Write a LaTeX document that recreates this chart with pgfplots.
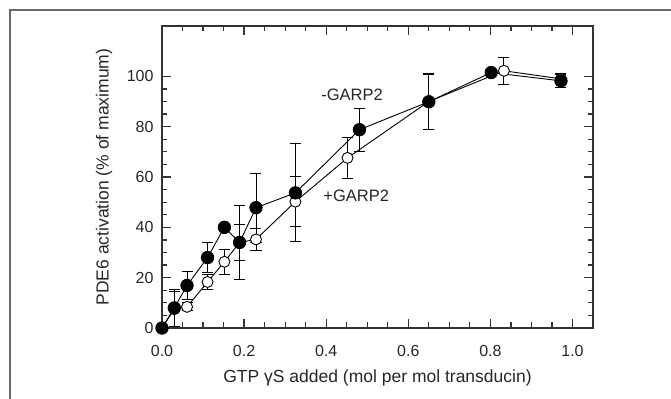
\documentclass[border=0pt]{standalone}
\usepackage{fontspec}
\setmainfont{Liberation Sans}
\usepackage{pgfplots}
\usepackage{pgfplotstable}
\pgfplotsset{compat=1.18}
\pgfplotstableread{
x y e
0 0 0
0.030 8.0 7.5
0.061 16.9 5.6
0.111 28.0 5.9
0.152 40.0 1.0
0.189 34.0 14.6
0.229 47.8 13.7
0.325 53.7 19.5
0.481 78.8 8.5
0.650 89.9 10.9
0.802 101.5 1.0
0.972 98.2 2.6
}\minusgarp
\pgfplotstableread{
x y e
0 0 0
0.030 7.5 7.0
0.061 8.4 1.6
0.111 18.3 3.0
0.152 26.3 5.0
0.189 34.0 7.0
0.229 35.2 4.3
0.325 50.2 10.0
0.452 67.6 8.3
0.650 90.0 11.3
0.833 102.2 5.3
0.972 99.0 2.0
}\plusgarp
\definecolor{axgray}{HTML}{333333}
\definecolor{framegray}{HTML}{6A6A6A}
\begin{document}
\begin{tikzpicture}
\useasboundingbox (-162bp,-71bp) rectangle (509bp,328bp);
\draw[line width=1.3bp, color=framegray] (-152bp,-71bp) -- (-152bp,318bp) -- (509bp,318bp);
\begin{axis}[
  at={(0,0)}, anchor=south west,
  scale only axis, width=431bp, height=302bp,
  xmin=0, xmax=1.05, ymin=0, ymax=120,
  xtick={0,0.2,0.4,0.6,0.8,1.0},
  ytick={0,20,40,60,80,100},
  minor x tick num=3, minor y tick num=3,
  tick align=inside,
  major tick length=9bp, minor tick length=5.5bp,
  every tick/.style={line width=1.2bp, color=axgray},
  axis line style={line width=1.4bp, color=axgray},
  /pgf/number format/assume math mode=true,
  xticklabel style={/pgf/number format/fixed, /pgf/number format/fixed zerofill, /pgf/number format/precision=1, yshift=-14bp},
  ticklabel style={font=\fontsize{16bp}{18bp}\selectfont, text=black!85},
  yticklabel style={xshift=-5bp},
  xlabel={GTP γS added (mol per mol transducin)},
  ylabel={PDE6 activation (\% of maximum)},
  every axis x label/.style={at={(rel axis cs:0.5,0)}, yshift=-50bp, anchor=center},
  every axis y label/.style={at={(rel axis cs:0,0.5)}, xshift=-58bp, rotate=90, anchor=center},
  label style={font=\fontsize{17.5bp}{20bp}\selectfont, text=black!85},
  clip=false,
]
\addplot[black, line width=0.9bp, mark=*, mark size=5.5bp,
  mark options={draw=black, fill=white, line width=0.9bp},
  error bars/.cd, y dir=both, y explicit,
  error bar style={line width=0.9bp, black},
  error mark options={rotate=90, mark size=5.5bp, line width=0.9bp, black}]
  table[x=x, y=y, y error=e] {\plusgarp};
\addplot[black, line width=0.9bp, mark=*, mark size=6.2bp,
  mark options={draw=black, fill=black},
  error bars/.cd, y dir=both, y explicit,
  error bar style={line width=0.9bp, black},
  error mark options={rotate=90, mark size=5.5bp, line width=0.9bp, black}]
  table[x=x, y=y, y error=e] {\minusgarp};
\node[font=\fontsize{16.5bp}{19bp}\selectfont, text=black!85] at (axis cs:0.463,92.5) {-GARP2};
\node[font=\fontsize{16.5bp}{19bp}\selectfont, text=black!85] at (axis cs:0.473,52.5) {+GARP2};
\end{axis}
\end{tikzpicture}
\end{document}
